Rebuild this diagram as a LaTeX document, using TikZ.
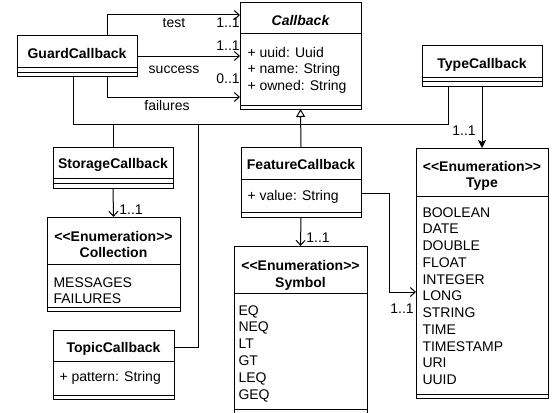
\documentclass[tikz,border=0pt]{standalone}
\usepackage{fontspec}
\setmainfont{Liberation Sans}
\usetikzlibrary{arrows.meta,calc}
\newcommand\dgfs{\fontsize{14pt}{16.75pt}\selectfont}
\begin{document}
\begin{tikzpicture}[x=1pt,y=-1pt,line width=1pt,
  cls/.style={draw,anchor=north west,inner sep=0pt,outer sep=0pt},
  ttl/.style={inner sep=0pt,anchor=base,font=\dgfs\bfseries},
  itm/.style={inner sep=0pt,anchor=base west,font=\dgfs},
  lbl/.style={inner sep=0pt,anchor=base,font=\dgfs},
  assoc/.style={-{Straight Barb[length=5pt,width=9pt]}},
  filledassoc/.style={-{Stealth[length=8pt,width=8pt,inset=2pt]}},
  gen/.style={-{Triangle[open,length=8pt,width=9pt]}}]
\useasboundingbox (0,0) rectangle (553,412);
\clip (0,0) rectangle (553,412);

% ---------- class boxes ----------
\node[cls,minimum width=120pt,minimum height=40pt] (guard) at (17,36) {};
\draw (17,67) -- (137,67) (17,72) -- (137,72);
\node[ttl] (guardT) at (77,58) {GuardCallback};

\node[cls,minimum width=121pt,minimum height=106pt] (callback) at (240,3) {};
\draw (240,34) -- (361,34) (240,105) -- (361,105);
\node[ttl,font=\dgfs\bfseries\itshape] (callbackT) at (300.5,26) {Callback};
\node[itm] (cbA) at (247,57) {+ uuid: Uuid};
\node[itm] (cbB) at (247,73.75) {+ name: String};
\node[itm] (cbC) at (247,90.5) {+ owned: String};

\node[cls,minimum width=120pt,minimum height=40pt] (typecb) at (422,46) {};
\draw (422,77) -- (542,77) (422,81) -- (542,81);
\node[ttl] (typecbT) at (482,68) {TypeCallback};

\node[cls,minimum width=120pt,minimum height=41pt] (storage) at (53,147) {};
\draw (53,178) -- (173,178) (53,183) -- (173,183);
\node[ttl] (storageT) at (113,168) {StorageCallback};

\node[cls,minimum width=133pt,minimum height=94pt] (collection) at (47,217) {};
\draw (47,264) -- (180,264) (47,307) -- (180,307);
\node[ttl] (collT1) at (113.5,241) {<{}<Enumeration>{}>};
\node[ttl] (collT2) at (113.5,257) {Collection};
\node[itm] (collA) at (53,287) {MESSAGES};
\node[itm] (collB) at (53,303) {FAILURES};

\node[cls,minimum width=120pt,minimum height=70pt] (feature) at (241,147) {};
\draw (241,179) -- (361,179) (241,212) -- (361,212);
\node[ttl] (featureT) at (301,169) {FeatureCallback};
\node[itm] (featA) at (247,200) {+ value: String};

\node[cls,minimum width=132pt,minimum height=250pt] (type) at (416,148) {};
\draw (416,196) -- (548,196) (416,394) -- (548,394);
\node[ttl] (typeT1) at (482,171) {<{}<Enumeration>{}>};
\node[ttl] (typeT2) at (482,187) {Type};
\node[itm] (tyA) at (422,217) {BOOLEAN};
\node[itm] (tyB) at (422,233.75) {DATE};
\node[itm] (tyC) at (422,250.5) {DOUBLE};
\node[itm] (tyD) at (422,267.25) {FLOAT};
\node[itm] (tyE) at (422,284) {INTEGER};
\node[itm] (tyF) at (422,300.75) {LONG};
\node[itm] (tyG) at (422,317.5) {STRING};
\node[itm] (tyH) at (422,334.25) {TIME};
\node[itm] (tyI) at (422,351) {TIMESTAMP};
\node[itm] (tyJ) at (422,367.75) {URI};
\node[itm] (tyK) at (422,384.5) {UUID};

\node[cls,minimum width=133pt,minimum height=190pt] (symbol) at (234,246) {};
\draw (234,293) -- (367,293) (234,409) -- (367,409);
\node[ttl] (symT1) at (300.5,270) {<{}<Enumeration>{}>};
\node[ttl] (symT2) at (300.5,287) {Symbol};
\node[itm] (syA) at (238,315) {EQ};
\node[itm] (syB) at (238,331.8) {NEQ};
\node[itm] (syC) at (238,348.6) {LT};
\node[itm] (syD) at (238,365.4) {GT};
\node[itm] (syE) at (238,382.2) {LEQ};
\node[itm] (syF) at (238,399) {GEQ};

\node[cls,minimum width=121pt,minimum height=69pt] (topic) at (53,330) {};
\draw (53,361) -- (174,361) (53,395) -- (174,395);
\node[ttl] (topicT) at (113.5,352) {TopicCallback};
\node[itm] (topA) at (59,381) {+ pattern: String};

% ---------- generalisation ----------
\coordinate (jn) at (301,124);
\coordinate (tj) at (198,124);
\draw[gen] (feature.north) -- (callback.south);
\draw ([xshift=-4pt]guard.south) |- (jn);
\draw (storage.north) |- (jn);
\draw ([yshift=17.5pt]topic.east) -| (tj);
\draw ([xshift=-34pt]typecb.south) |- (jn);

% ---------- associations ----------
\draw[assoc] ([xshift=-30pt]guard.north east) |- ([yshift=-12pt]callback.north west);
\draw[assoc] (guard.east) -- (guard.east -| callback.west);
\draw[assoc] ([xshift=-30pt]guard.south east) |- ([yshift=12pt]callback.south west);
\draw[filledassoc] (typecb.south) -- (type.north);
\draw[assoc] (storage.south) -- (collection.north);
\draw[assoc] (feature.south) -- (symbol.north);
\draw[assoc] ([yshift=-11pt]feature.east) -- ++(28,0) |- ([yshift=-19pt]type.west);

% ---------- labels ----------
\node[lbl] (lTest) at (174,28) {test};
\node[lbl] (mTest) at (228,28) {1..1};
\node[lbl] (lSucc) at (174,73.5) {success};
\node[lbl] (mSucc) at (228,50) {1..1};
\node[lbl] (lFail) at (167,110) {failures};
\node[lbl] (mFail) at (228,83) {0..1};
\node[lbl] (mType) at (464,135) {1..1};
\node[lbl] (mColl) at (131,214) {1..1};
\node[lbl] (mSym) at (318,242) {1..1};
\node[lbl] (mFT) at (402,313) {1..1};
\end{tikzpicture}
\end{document}
